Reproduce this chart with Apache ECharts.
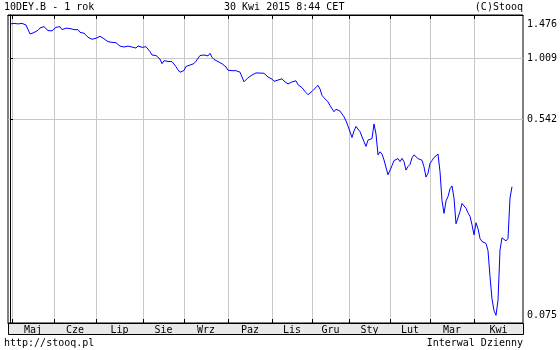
<!DOCTYPE html>
<html>
<head>
<meta charset="utf-8">
<script src="https://cdn.jsdelivr.net/npm/echarts@6/dist/echarts.min.js"></script>
<style>html,body{margin:0;padding:0;background:#fff}#c{width:560px;height:350px}</style>
</head>
<body>
<div id="c"></div>
<script>
// ---- texts ----
const titleText = '10DEY.B - 1 rok';
const stampText = '30 Kwi 2015 8:44 CET';
const creditText = '(C)Stooq';
const sourceText = 'http://stooq.pl';
const intervalText = 'Interwal Dzienny';

// ---- x axis (trading-day index, 30 Apr 2014 = 0) ----
const months = ['Maj','Cze','Lip','Sie','Wrz','Paz','Lis','Gru','Sty','Lut','Mar','Kwi'];
const monthStart = [1, 22, 43, 66.5, 87, 109, 131, 151, 169.5, 190, 210, 232];
const dayMin = -1;
const dayMax = 256.5;

// ---- y axis (log) ----
const yLabels = [1.476, 1.009, 0.542, 0.075];
const yGridValues = [1.009, 0.542];
const yMin = 0.0694;
const yMax = 1.5565;

// ---- daily close values ----
const values = [
1.421,1.424,1.430,1.429,1.423,1.427,1.430,1.421,1.407,1.345,
1.285,1.295,1.304,1.311,1.334,1.365,1.384,1.384,1.361,1.330,
1.324,1.326,1.338,1.375,1.400,1.383,1.343,1.353,1.362,1.362,
1.358,1.349,1.343,1.357,1.342,1.307,1.298,1.294,1.278,1.244,
1.221,1.218,1.218,1.231,1.253,1.255,1.236,1.225,1.206,1.189,
1.181,1.181,1.181,1.177,1.163,1.136,1.127,1.127,1.127,1.137,
1.144,1.126,1.119,1.115,1.138,1.142,1.123,1.106,1.130,1.127,
1.075,1.039,1.033,1.034,1.018,0.997,0.952,0.981,0.995,0.974,
0.971,0.971,0.949,0.923,0.895,0.873,0.870,0.889,0.926,0.944,
0.939,0.921,0.953,0.976,0.995,1.034,1.046,1.039,1.039,1.030,
1.057,1.016,0.993,0.988,0.973,0.956,0.951,0.943,0.921,0.891,
0.887,0.887,0.887,0.887,0.882,0.874,0.858,0.793,0.785,0.826,
0.841,0.849,0.851,0.867,0.874,0.866,0.867,0.864,0.854,0.832,
0.835,0.815,0.797,0.810,0.807,0.811,0.817,0.799,0.786,0.776,
0.781,0.792,0.803,0.801,0.770,0.758,0.747,0.728,0.711,0.696,
0.701,0.720,0.735,0.749,0.765,0.737,0.691,0.675,0.667,0.647,
0.624,0.616,0.586,0.601,0.595,0.590,0.583,0.557,0.534,0.507,
0.507,0.452,0.483,0.505,0.495,0.479,0.471,0.433,0.413,0.440,
0.436,0.447,0.518,0.468,0.379,0.391,0.382,0.360,0.354,0.310,
0.315,0.340,0.358,0.360,0.365,0.354,0.366,0.354,0.325,0.337,
0.344,0.368,0.379,0.379,0.365,0.362,0.359,0.336,0.303,0.315,
0.348,0.358,0.369,0.366,0.382,0.320,0.239,0.210,0.238,0.249,
0.269,0.277,0.245,0.189,0.191,0.214,0.232,0.228,0.221,0.211,
0.204,0.187,0.169,0.191,0.180,0.163,0.158,0.156,0.155,0.144,
0.111,0.0885,0.0786,0.0750,0.0873,0.1451,0.164,0.162,0.159,0.163,
0.245,0.275
];

// ---- build ----
const monthMid = monthStart.map((s, k) => (s + (k + 1 < monthStart.length ? monthStart[k + 1] : dayMax)) / 2);
const seriesData = values.map((v, i) => [i, v]);
const FONT = 'DejaVu Sans Mono';
const black = '#000';
const gridGray = '#c8c8c8';

function monthFor(v) {
  let best = 0, d = Infinity;
  monthMid.forEach((m, k) => { const dd = Math.abs(m - v); if (dd < d) { d = dd; best = k; } });
  return months[best];
}

const chart = echarts.init(document.getElementById('c'), null, {renderer: 'canvas'});
chart.setOption({
  animation: false,
  backgroundColor: '#fff',
  grid: {
    left: 8, right: 37, top: 15, bottom: 27,
    show: true, borderColor: black, borderWidth: 1,
    outerBoundsMode: 'none'
  },
  xAxis: [{
    type: 'value', position: 'bottom', min: dayMin, max: dayMax,
    axisLine: {show: true, lineStyle: {color: black, width: 1}},
    axisTick: {show: true, customValues: monthStart, inside: true, length: 4, lineStyle: {color: black}},
    axisLabel: {
      show: true, customValues: monthMid, formatter: v => monthFor(v),
      margin: 2, color: black, fontFamily: FONT, fontSize: 10, lineHeight: 10
    },
    splitLine: {show: true, lineStyle: {color: gridGray, width: 1}}
  }, {
    type: 'value', position: 'top', min: dayMin, max: dayMax,
    axisLine: {show: true, lineStyle: {color: black, width: 1}},
    axisTick: {show: true, customValues: monthStart, inside: true, length: 4, lineStyle: {color: black}},
    axisLabel: {show: false},
    splitLine: {show: false}
  }],
  yAxis: {
    type: 'log', position: 'right', min: yMin, max: yMax,
    axisLine: {show: true, lineStyle: {color: black, width: 1}},
    axisTick: {show: true, customValues: yGridValues, length: 3, lineStyle: {color: black}},
    axisLabel: {
      show: true, customValues: yLabels,
      formatter: v => (Math.abs(v - yLabels[0]) < 1e-6 ? '{top|' + v.toFixed(3) + '}' : v.toFixed(3)),
      rich: {top: {padding: [8, 0, 0, 0], fontFamily: FONT, fontSize: 10, color: black}},
      margin: 4, color: black, fontFamily: FONT, fontSize: 10
    },
    splitLine: {show: true, lineStyle: {color: gridGray, width: 1}}
  },
  series: [{
    type: 'line', data: seriesData, xAxisIndex: 0, yAxisIndex: 0,
    symbol: 'none', showSymbol: false, smooth: false,
    lineStyle: {color: '#0000ff', width: 1},
    z: 3
  }],
  graphic: [
    {type: 'rect', z: -10, silent: true, shape: {x: 8.5, y: 323.5, width: 515, height: 11},
     style: {fill: '#e8e8e8', stroke: black, lineWidth: 1}},
    {type: 'text', left: 4, top: 2, style: {text: titleText, font: '10px ' + FONT, fill: black}},
    {type: 'text', left: 224, top: 2, style: {text: stampText, font: '10px ' + FONT, fill: black}},
    {type: 'text', right: 37, top: 2, style: {text: creditText, font: '10px ' + FONT, fill: black}},
    {type: 'text', left: 4, top: 338, style: {text: sourceText, font: '10px ' + FONT, fill: black}},
    {type: 'text', right: 37, top: 338, style: {text: intervalText, font: '10px ' + FONT, fill: black}}
  ]
});
</script>
</body>
</html>
